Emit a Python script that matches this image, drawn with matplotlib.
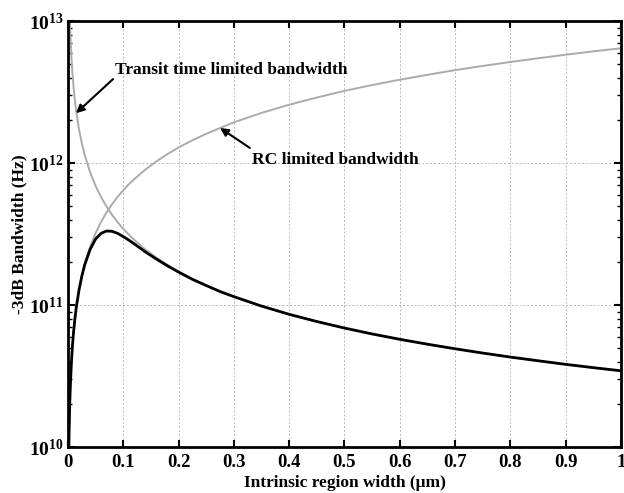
import numpy as np
import matplotlib
matplotlib.use("Agg")
import matplotlib.pyplot as plt
from matplotlib.ticker import FixedLocator, FixedFormatter, LogLocator, NullFormatter

plt.rcParams["font.family"] = "Liberation Serif"
plt.rcParams["font.weight"] = "bold"
plt.rcParams["mathtext.fontset"] = "custom"
plt.rcParams["mathtext.rm"] = "Liberation Serif:bold"
plt.rcParams["mathtext.bf"] = "Liberation Serif:bold"
plt.rcParams["mathtext.default"] = "bf"

# intrinsic region width (um)
w = [0.001, 0.0015, 0.002, 0.003, 0.004, 0.006, 0.008, 0.01, 0.0125, 0.015,
     0.02, 0.025, 0.03, 0.04, 0.05, 0.06, 0.07, 0.08, 0.09, 0.1, 0.11, 0.12,
     0.14, 0.16, 0.18, 0.2, 0.225, 0.25, 0.275, 0.3, 0.35, 0.4, 0.45, 0.5,
     0.55, 0.6, 0.65, 0.7, 0.75, 0.8, 0.85, 0.9, 0.95, 1.0]

# transit time limited bandwidth (Hz)
f_transit = [3.45e13, 2.3e13, 1.725e13, 1.15e13, 8.63e12, 5.75e12, 4.31e12, 3.45e12,
             2.76e12, 2.3e12, 1.725e12, 1.38e12, 1.15e12, 8.63e11, 6.9e11, 5.75e11,
             4.93e11, 4.31e11, 3.83e11, 3.45e11, 3.14e11, 2.88e11, 2.46e11, 2.16e11,
             1.92e11, 1.725e11, 1.53e11, 1.38e11, 1.25e11, 1.15e11, 9.86e10, 8.63e10,
             7.67e10, 6.9e10, 6.27e10, 5.75e10, 5.31e10, 4.93e10, 4.6e10, 4.31e10,
             4.06e10, 3.83e10, 3.63e10, 3.45e10]

# RC limited bandwidth (Hz)
f_rc = [6.45e9, 9.68e9, 1.29e10, 1.94e10, 2.58e10, 3.87e10, 5.16e10, 6.45e10,
        8.06e10, 9.68e10, 1.29e11, 1.61e11, 1.94e11, 2.58e11, 3.23e11, 3.87e11,
        4.52e11, 5.16e11, 5.81e11, 6.45e11, 7.1e11, 7.74e11, 9.03e11, 1.03e12,
        1.16e12, 1.29e12, 1.45e12, 1.61e12, 1.77e12, 1.94e12, 2.26e12, 2.58e12,
        2.9e12, 3.23e12, 3.55e12, 3.87e12, 4.19e12, 4.52e12, 4.84e12, 5.16e12,
        5.48e12, 5.81e12, 6.13e12, 6.45e12]

# total -3dB bandwidth (Hz)
f_total = [6.45e9, 9.68e9, 1.29e10, 1.94e10, 2.58e10, 3.87e10, 5.16e10, 6.45e10,
           8.05e10, 9.67e10, 1.286e11, 1.6e11, 1.913e11, 2.47e11, 2.93e11, 3.21e11,
           3.33e11, 3.31e11, 3.2e11, 3.04e11, 2.87e11, 2.7e11, 2.37e11, 2.11e11,
           1.89e11, 1.71e11, 1.52e11, 1.375e11, 1.247e11, 1.148e11, 9.85e10, 8.62e10,
           7.67e10, 6.9e10, 6.27e10, 5.75e10, 5.31e10, 4.93e10, 4.6e10, 4.31e10,
           4.06e10, 3.83e10, 3.63e10, 3.45e10]

xticks = [0, 0.1, 0.2, 0.3, 0.4, 0.5, 0.6, 0.7, 0.8, 0.9, 1]
xlabels = ["0", "0.1", "0.2", "0.3", "0.4", "0.5", "0.6", "0.7", "0.8", "0.9", "1"]
yticks = [1e10, 1e11, 1e12, 1e13]
ylabels = [r"$10^{10}$", r"$10^{11}$", r"$10^{12}$", r"$10^{13}$"]

fig = plt.figure(figsize=(6.24, 4.93), dpi=100)
ax = fig.add_axes([0.109, 0.093, 0.886, 0.864])

ax.plot(w, f_transit, color="#ababab", lw=1.4)
ax.plot(w, f_rc, color="#ababab", lw=1.4)
ax.plot(w, f_total, color="black", lw=2.0)

ax.set_yscale("log")
ax.set_xlim(0, 1)
ax.set_ylim(1e10, 1e13)

ax.xaxis.set_major_locator(FixedLocator(xticks))
ax.xaxis.set_major_formatter(FixedFormatter(xlabels))
ax.yaxis.set_major_locator(FixedLocator(yticks))
ax.yaxis.set_major_formatter(FixedFormatter(ylabels))
ax.yaxis.set_minor_locator(LogLocator(base=10, subs=np.arange(2, 10)))
ax.yaxis.set_minor_formatter(NullFormatter())

ax.tick_params(which="both", direction="in", top=True, right=True)
ax.tick_params(which="major", length=5, width=1.5)
ax.tick_params(which="minor", length=3, width=1)
ax.tick_params(axis="x", which="major", pad=5, labelsize=13.5)
ax.tick_params(axis="y", which="major", pad=3, labelsize=14)

for s in ax.spines.values():
    s.set_linewidth(2)

ax.grid(True, which="major", ls=(0, (2, 2)), color="#b8b8b8", lw=0.7)

ax.set_xlabel("Intrinsic region width (\u03bcm)", fontsize=12.5, fontweight="bold", labelpad=3)
ax.set_ylabel("-3dB Bandwidth (Hz)", fontsize=12.5, fontweight="bold", labelpad=1)

arrow = dict(arrowstyle="-|>", color="black", lw=1.5, mutation_scale=12,
             shrinkA=0, shrinkB=0)

ax.text(0.085, 4.52e12, "Transit time limited bandwidth", fontsize=12.5,
        fontweight="bold", va="center", ha="left")
ax.annotate("", xy=(0.0145, 2.25e12), xytext=(0.0814, 3.91e12), arrowprops=arrow)

ax.text(0.333, 1.05e12, "RC limited bandwidth", fontsize=12.5,
        fontweight="bold", va="center", ha="left")
ax.annotate("", xy=(0.275, 1.77e12), xytext=(0.329, 1.28e12), arrowprops=arrow)

fig.savefig("out.png", dpi=100)
